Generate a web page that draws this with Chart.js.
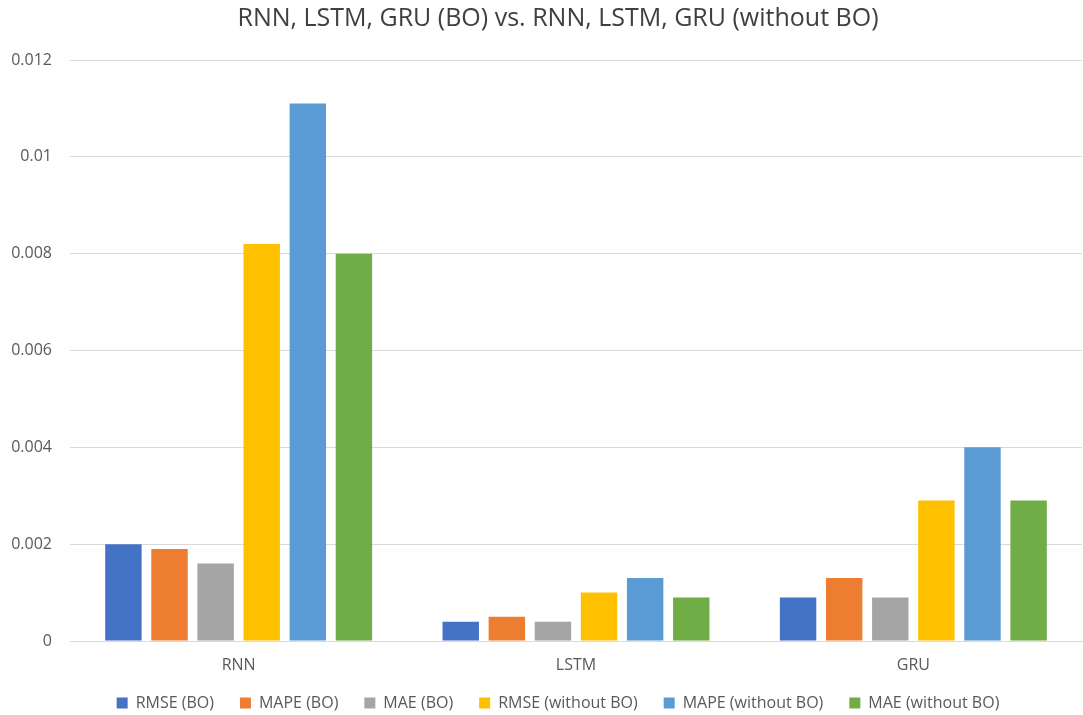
<!DOCTYPE html>
<html>
<head>
<meta charset="utf-8">
<script src="https://cdn.jsdelivr.net/npm/chart.js@4/dist/chart.umd.min.js"></script>
<style>
  html, body { margin: 0; padding: 0; background: #ffffff; }
  #wrap { width: 1083px; height: 715px; }
</style>
</head>
<body>
<div id="wrap"><canvas id="c" width="1083" height="715"></canvas></div>
<script>
// Models compared
const categories = ['RNN', 'LSTM', 'GRU'];

// Error metrics per model, with and without Bayesian optimisation
const rmseBO       = [0.0020, 0.0004, 0.0009];
const mapeBO       = [0.0019, 0.0005, 0.0013];
const maeBO        = [0.0016, 0.0004, 0.0009];
const rmseNoBO     = [0.0082, 0.0010, 0.0029];
const mapeNoBO     = [0.0111, 0.0013, 0.0040];
const maeNoBO      = [0.0080, 0.0009, 0.0029];

const seriesNames = ['RMSE (BO)', 'MAPE (BO)', 'MAE (BO)', 'RMSE (without BO)', 'MAPE (without BO)', 'MAE (without BO)'];
const seriesValues = [rmseBO, mapeBO, maeBO, rmseNoBO, mapeNoBO, maeNoBO];
const seriesColors = ['#4472C4', '#ED7D31', '#A5A5A5', '#FFC000', '#5B9BD5', '#70AD47'];

const yTicks = [0, 0.002, 0.004, 0.006, 0.008, 0.01, 0.012];

const FONT = "'Open Sans', 'Liberation Sans', sans-serif";
const TEXT = '#595959';

// Centre the title and legend over the whole canvas, and lift the legend row a little
const placeBlocks = {
  id: 'placeBlocks',
  afterLayout(chart) {
    const dx = 13;
    [chart.legend, chart.titleBlock].forEach((box) => {
      if (box) { box.left += dx; box.right += dx; }
    });
    if (chart.legend) { chart.legend.top -= 12; chart.legend.bottom = chart.height; }
  }
};

new Chart(document.getElementById('c'), {
  type: 'bar',
  data: {
    labels: categories,
    datasets: seriesNames.map((name, i) => ({
      label: name,
      data: seriesValues[i],
      backgroundColor: seriesColors[i],
      borderWidth: 0,
      categoryPercentage: 0.82,
      barPercentage: 0.79
    }))
  },
  plugins: [placeBlocks],
  options: {
    responsive: false,
    animation: false,
    layout: { padding: { left: 8, right: 1, top: 4, bottom: 0 } },
    plugins: {
      title: {
        display: true,
        text: 'RNN, LSTM, GRU (BO) vs. RNN, LSTM, GRU (without BO)',
        color: '#404040',
        font: { family: FONT, size: 25, weight: 'normal' },
        padding: { top: 0, bottom: 26 }
      },
      legend: {
        position: 'bottom',
        maxHeight: 34,
        labels: {
          color: TEXT,
          font: { family: FONT, size: 16 },
          boxWidth: 11,
          boxHeight: 11,
          padding: 26
        }
      },
      tooltip: { enabled: false }
    },
    scales: {
      x: {
        grid: { display: false },
        border: { color: '#D9D9D9', width: 1 },
        ticks: { color: TEXT, font: { family: FONT, size: 16 }, padding: 6.4 }
      },
      y: {
        min: 0,
        max: 0.012,
        afterBuildTicks: (axis) => { axis.ticks = yTicks.map(v => ({ value: v })); },
        afterFit: (axis) => { axis.width = 62; },
        grid: { color: '#D9D9D9', lineWidth: 1, drawTicks: false },
        border: { display: false },
        ticks: {
          color: TEXT,
          font: { family: FONT, size: 16 },
          padding: 18,
          callback: (v) => String(+Number(v).toFixed(3))
        }
      }
    }
  }
});
</script>
</body>
</html>
